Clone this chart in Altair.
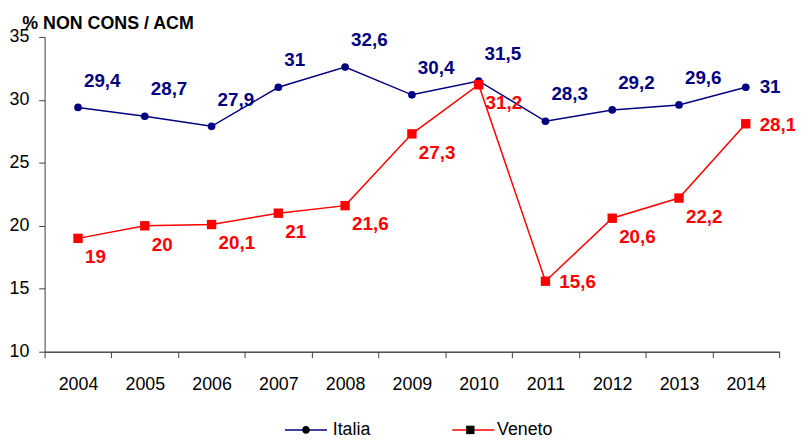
import altair as alt
import pandas as pd

years = list(range(2004, 2015))
italia = [29.4, 28.7, 27.9, 31, 32.6, 30.4, 31.5, 28.3, 29.2, 29.6, 31]
veneto = [19, 20, 20.1, 21, 21.6, 27.3, 31.2, 15.6, 20.6, 22.2, 28.1]
series_names = ["Italia", "Veneto"]
colors = ["#000080", "#FF0000"]
y_ticks = [10, 15, 20, 25, 30, 35]

rows = []
for name, vals in zip(series_names, [italia, veneto]):
    for yr, v in zip(years, vals):
        rows.append({"year": yr, "v": v, "series": name,
                     "label": f"{v:g}".replace(".", ",")})
df = pd.DataFrame(rows)
last_year = years[-1]
veneto_min = min(veneto)

FONT = "Liberation Sans"
AX = "#404040"

xscale = alt.Scale(domain=[years[0] - 0.5, years[-1] + 0.5], nice=False, zero=False)
yscale = alt.Scale(domain=[y_ticks[0], y_ticks[-1]], nice=False, zero=False)
color_enc = alt.Color("series:N", scale=alt.Scale(domain=series_names, range=colors), legend=None)

y_axis = alt.Axis(values=y_ticks, tickSize=6, labelPadding=10, labelFontSize=18, labelFont=FONT,
                  labelColor="black", domainColor=AX, tickColor=AX, grid=False,
                  title="% NON CONS / ACM", titleAngle=0, titleAlign="left",
                  titleBaseline="alphabetic", titleX=-23, titleY=-8, titleFontSize=18,
                  titleFont=FONT, titleFontWeight="bold", titleColor="black")
y_enc = alt.Y("v:Q", scale=yscale, axis=y_axis)

x_label_axis = alt.Axis(orient="bottom", values=years, format="d", tickSize=0, labelPadding=24,
                        labelFontSize=18, labelFont=FONT, labelColor="black", domainColor=AX,
                        grid=False, title=None)
x_tick_axis = alt.Axis(orient="bottom", values=[y - 0.5 for y in years] + [years[-1] + 0.5],
                       labels=False, tickSize=6, tickColor=AX, domainColor=AX, grid=False, title=None)

base = alt.Chart(df)

lines = base.mark_line(strokeWidth=1.5).encode(
    x=alt.X("year:Q", scale=xscale, axis=x_label_axis),
    y=y_enc, color=color_enc, detail="series:N")

points = base.mark_point(filled=True, opacity=1).encode(
    x=alt.X("year:Q", scale=xscale, axis=x_tick_axis),
    y=y_enc, color=color_enc,
    shape=alt.Shape("series:N", scale=alt.Scale(domain=series_names, range=["circle", "square"]), legend=None),
    size=alt.Size("series:N", scale=alt.Scale(domain=series_names, range=[60, 90]), legend=None))

def labels(cond, dx, dy):
    return base.transform_filter(cond).mark_text(
        align="left", baseline="middle", dx=dx, dy=dy, font=FONT, fontSize=19, fontWeight="bold"
    ).encode(x=alt.X("year:Q", scale=xscale, axis=None), y=y_enc, color=color_enc, text="label:N")

t1 = labels(f"datum.series == 'Italia' && datum.year != {last_year}", 6, -27)
t2 = labels(f"datum.series == 'Italia' && datum.year == {last_year}", 14, 0)
t3 = labels(f"datum.series == 'Veneto' && datum.year != {last_year} && datum.v != {veneto_min}", 7, 19)
t4 = labels(f"datum.series == 'Veneto' && (datum.year == {last_year} || datum.v == {veneto_min})", 14, 1)

# legend: a stroke legend (line) overlaid with a marker legend at the same place
LEG = dict(title=None, orient="none", legendX=242, legendY=375, direction="horizontal",
           symbolSize=1800, symbolStrokeWidth=1.5, labelFontSize=18, labelFont=FONT,
           labelColor="black", labelOffset=5, columnPadding=78,
           labelExpr="replace(datum.label, '_', '')")
line_legend = alt.Legend(symbolType="stroke", labelOpacity=0, **LEG)
mark_legend = alt.Legend(**LEG)

circle_path = "M-0.18,0A0.18,0.18,0,1,0,0.18,0A0.18,0.18,0,1,0,-0.18,0Z"
square_path = "M-0.2,-0.2H0.2V0.2H-0.2Z"
line_domain = [s + "_" for s in series_names]

legend_lines = base.transform_filter("false").transform_calculate(lseries="datum.series + '_'").mark_line(
    strokeWidth=1.5).encode(
    x=alt.X("year:Q", scale=xscale, axis=None), y=y_enc,
    stroke=alt.Stroke("lseries:N", scale=alt.Scale(domain=line_domain, range=colors), legend=line_legend))

legend_marks = base.transform_filter("false").transform_calculate(mseries="datum.series").mark_point(
    filled=True, opacity=1).encode(
    x=alt.X("year:Q", scale=xscale, axis=None), y=y_enc,
    fill=alt.Fill("mseries:N", scale=alt.Scale(domain=series_names, range=colors), legend=mark_legend),
    shape=alt.Shape("mseries:N", scale=alt.Scale(domain=series_names, range=[circle_path, square_path]),
                    legend=mark_legend))

chart = alt.layer(lines, points, t1, t2, t3, t4, legend_lines, legend_marks).resolve_axis(
    x="independent").resolve_scale(shape="independent", size="independent").properties(
    width=742, height=318, autosize=alt.AutoSizeParams(type="none"),
    padding={"left": 37, "top": 27, "right": 16, "bottom": 86}, background="white"
).configure_view(stroke=None)

chart.save("out.html", embed_options={"renderer": "svg", "actions": False})
